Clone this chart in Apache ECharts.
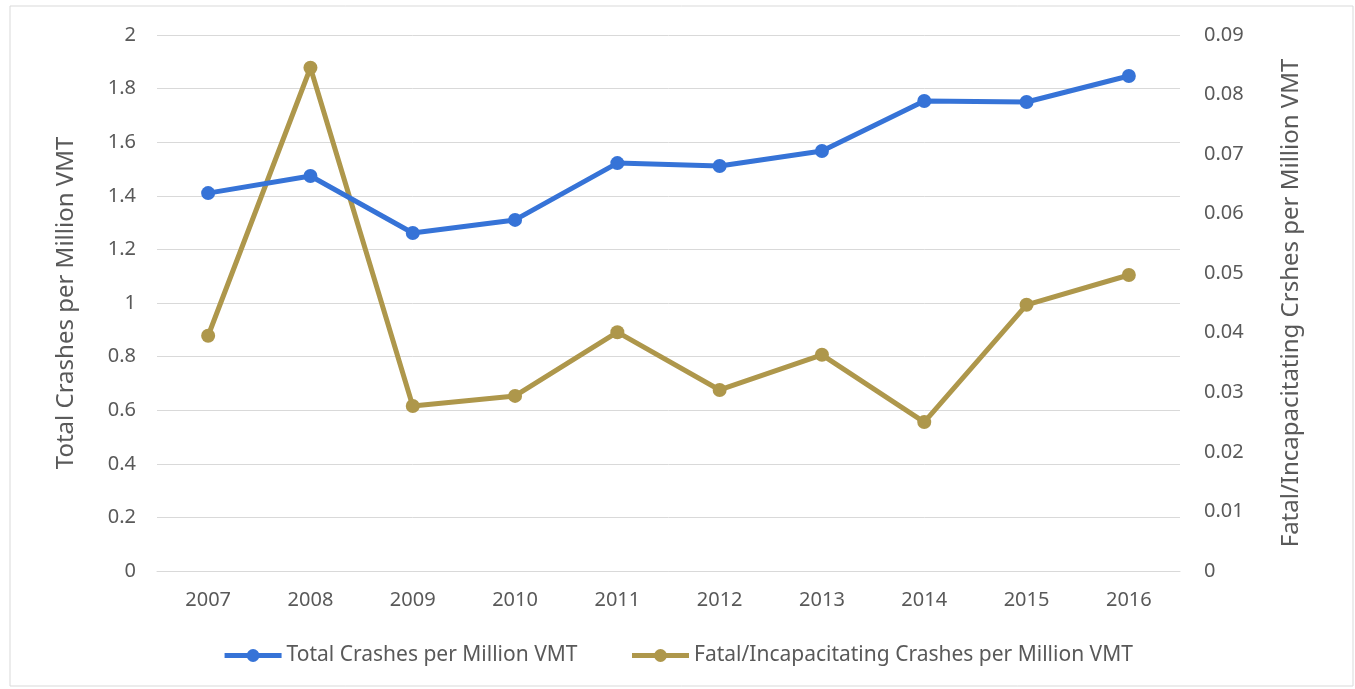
<!DOCTYPE html>
<html>
<head>
<meta charset="utf-8">
<script src="https://cdn.jsdelivr.net/npm/echarts@6/dist/echarts.min.js"></script>
<style>
  html, body { margin: 0; padding: 0; background: #fff; }
  #chart { width: 1355px; height: 689px; }
</style>
</head>
<body>
<div id="chart"></div>
<script>
const years = ['2007', '2008', '2009', '2010', '2011', '2012', '2013', '2014', '2015', '2016'];
const totalCrashes = [1.41, 1.474, 1.261, 1.31, 1.522, 1.511, 1.567, 1.754, 1.75, 1.847];
const fatalCrashes = [0.0395, 0.0845, 0.0277, 0.0294, 0.0401, 0.0304, 0.0363, 0.025, 0.0447, 0.0497];

const textColor = '#595959';
const font = 'Noto Sans';

const chart = echarts.init(document.getElementById('chart'));

chart.setOption({
  animation: false,
  textStyle: { fontFamily: font },
  graphic: [{
    type: 'rect',
    shape: { x: 10, y: 6, width: 1343, height: 680 },
    style: { fill: 'none', stroke: '#d9d9d9', lineWidth: 1 },
    silent: true
  }],
  grid: { left: 157, right: 175, top: 35, bottom: 118 },
  legend: {
    bottom: 18,
    left: 'center',
    itemWidth: 57,
    itemHeight: 16,
    itemGap: 52,
    lineStyle: { width: 5 },
    textStyle: { color: textColor, fontSize: 21, fontFamily: font },
    data: ['Total Crashes per Million VMT', 'Fatal/Incapacitating Crashes per Million VMT']
  },
  xAxis: {
    type: 'category',
    data: years,
    axisLine: { show: true, lineStyle: { color: '#d9d9d9', width: 1 } },
    axisTick: { show: false },
    axisLabel: { color: textColor, fontSize: 20, margin: 19 }
  },
  yAxis: [{
    type: 'value',
    min: 0,
    max: 2,
    interval: 0.2,
    name: 'Total Crashes per Million VMT',
    nameLocation: 'middle',
    nameGap: 79,
    nameTextStyle: { color: textColor, fontSize: 24 },
    axisLabel: { color: textColor, fontSize: 20, margin: 21,
      formatter: v => String(+v.toFixed(1)) },
    splitLine: { lineStyle: { color: '#d9d9d9', width: 1 } },
    axisLine: { show: false },
    axisTick: { show: false }
  }, {
    type: 'value',
    min: 0,
    max: 0.09,
    interval: 0.01,
    name: 'Fatal/Incapacitating Crshes per Million VMT',
    nameLocation: 'middle',
    nameGap: 99,
    nameRotate: 90,
    nameTextStyle: { color: textColor, fontSize: 24 },
    axisLabel: { color: textColor, fontSize: 20, margin: 24,
      formatter: v => String(+v.toFixed(2)) },
    splitLine: { show: false },
    axisLine: { show: false },
    axisTick: { show: false }
  }],
  series: [{
    name: 'Total Crashes per Million VMT',
    type: 'line',
    yAxisIndex: 0,
    data: totalCrashes,
    symbol: 'circle',
    symbolSize: 14,
    color: '#3673d7',
    lineStyle: { width: 5 },
    z: 3
  }, {
    name: 'Fatal/Incapacitating Crashes per Million VMT',
    type: 'line',
    yAxisIndex: 1,
    data: fatalCrashes,
    symbol: 'circle',
    symbolSize: 14,
    color: '#ae974b',
    lineStyle: { width: 5 },
    z: 2
  }]
});
</script>
</body>
</html>
